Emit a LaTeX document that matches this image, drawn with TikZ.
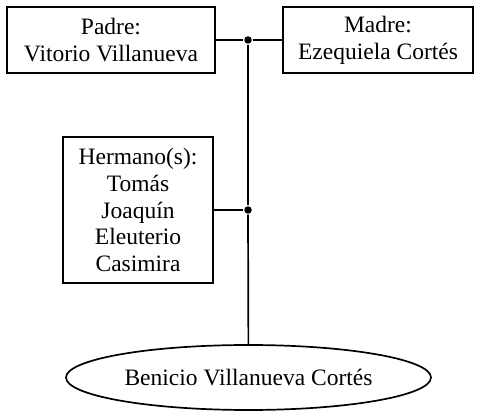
\documentclass[tikz,border=0pt]{standalone}
\usepackage{fontspec}
\setmainfont{Liberation Serif}
\usetikzlibrary{shapes,positioning,calc}

\begin{document}
\begin{tikzpicture}[
x=1pt, y=-1pt, line width=1.7pt,
person-node/.style = {rectangle,draw=black,align=center,inner sep=0pt,font=\fontsize{23.5}{26.75}\selectfont},
child-node/.style = {ellipse,draw=black,inner sep=0pt,font=\fontsize{23.5}{26.75}\selectfont},
join-node/.style = {circle,fill=black,inner sep=0pt,minimum size=7.5pt}
]
\useasboundingbox (0,0) rectangle (480,417);

\node [person-node, minimum width=208pt, minimum height=66pt] (padre) at (111, 40) {Padre:\\Vitorio Villanueva};
\node [person-node, minimum width=190pt, minimum height=66pt] (madre) at (378, 40) {Madre:\\Ezequiela Cortés};
\node [person-node, minimum width=150pt, minimum height=146pt] (hermanos) at (138, 210) {Hermano(s):\\Tomás\\Joaquín\\Eleuterio\\Casimira};
\node [child-node, minimum width=365pt, minimum height=65pt] (hijo) at (248.5, 377.5) {Benicio Villanueva Cortés};

% junctions
\node [join-node] (padres) at (248, 40) {};
\node [join-node] (hermanos-j) at (248, 210) {};

% lines
\draw (padre) -- (padres);
\draw (padres) -- (madre);
\draw (padres) -- (hermanos-j);
\draw (hermanos) -- (hermanos-j);
\draw (hermanos-j) -- (hijo);

\end{tikzpicture}
\end{document}
